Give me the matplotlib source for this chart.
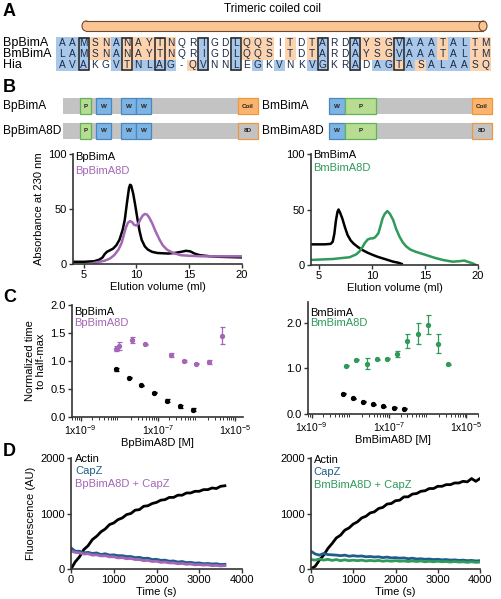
import numpy as np
import matplotlib
matplotlib.use("Agg")
import matplotlib.pyplot as plt
from matplotlib.patches import Rectangle, Ellipse
from matplotlib.ticker import FixedLocator, LogLocator, NullFormatter

plt.rcParams['font.family'] = ['Liberation Sans', 'DejaVu Sans']
plt.rcParams['mathtext.default'] = 'regular'

# --- Panel A: alignment ---
seq_names = ["BpBimA", "BmBimA", "Hia"]
seqs = ["AAMSNANAYTNQRIGDLQQSITDTARDAYSGVAAATALTM",
        "LAMSNANAYTNQRIGDLQQSITDTARDAYSGVAAATALTM",
        "AVAKGVTNLAG-QVNNLEGKVNKVGKRADAGTASALAASQ"]
shade = ["bbbooboooooww bwwbooowowobwwbooobbbbobboo".replace(" ", ""),
         "bbbooboooooww bwwbooowowobwwbooobbbbobboo".replace(" ", ""),
         "bbbwwbobbbbwobwwbwbwbwwbbwwbwbbobobbbboo"]
boxed_cols = [3, 7, 10, 14, 17, 25, 28, 32]

# --- Panel B: domain diagrams ---
construct_names = [["BpBimA", "BpBimA8D"], ["BmBimA", "BmBimA8D"]]
bp_domains = [("P", 80, 91), ("W", 96, 111), ("W", 121, 136), ("W", 136, 151)]
bm_domains = [("W", 329, 345), ("P", 345, 376)]

# --- Panel B: elution profiles ---
bp_vol = [4.05, 5.0, 6.0, 6.5, 6.8, 7.0, 7.2, 7.5, 7.8, 8.1, 8.4, 8.7, 8.9, 9.1, 9.3, 9.4, 9.5, 9.7, 9.9,
          10.1, 10.3, 10.5, 10.8, 11.1, 11.5, 12.0, 13.0, 13.6, 14.2, 14.7, 15.1, 15.5, 16.0, 17.0, 18.0, 20.0]
bp_abs = [2, 2, 2.5, 4, 6, 9, 11, 12.5, 14, 17, 22, 31, 40, 55, 69, 72, 71.5, 64, 53,
          41, 30, 22, 16, 13, 11, 10, 9.5, 10, 11, 12, 11.5, 9.5, 8, 7, 6.5, 6]
bp8d_vol = [6.0, 7.0, 7.5, 7.9, 8.3, 8.6, 8.8, 9.0, 9.2, 9.4, 9.6, 9.8, 10.0, 10.2, 10.4, 10.6, 10.8, 11.0,
            11.2, 11.5, 11.8, 12.2, 12.5, 12.9, 13.5, 14.2, 15.0, 16.1, 20.0]
bp8d_abs = [1, 3, 5, 8, 13, 19, 26, 33, 37.5, 39, 38, 35.5, 35, 37, 41, 44, 45.5, 45,
            42.5, 37, 30, 22, 17, 13, 10, 8, 7.5, 7, 7]
bm_vol = [4.1, 5.5, 6.1, 6.3, 6.45, 6.6, 6.75, 6.85, 7.0, 7.2, 7.45, 7.7, 8.0, 8.3, 8.7, 9.1, 9.6, 10.1,
          10.5, 11.0, 11.5, 12.0, 12.5, 12.8]
bm_abs = [18.6, 18.6, 19, 21, 28, 40, 48, 50, 47, 42, 34, 27, 22, 19, 16, 13.5, 11, 9,
          7.5, 6, 4.5, 3, 2, 1]
bm8d_vol = [4.1, 6.3, 7.9, 8.5, 8.8, 9.1, 9.3, 9.6, 9.9, 10.1, 10.3, 10.6, 10.8, 11.0, 11.2, 11.45, 11.7,
            12.0, 12.3, 12.6, 12.9, 13.2, 13.6, 14.1, 14.6, 15.1, 15.9, 16.7, 17.6, 18.3, 18.7, 19.0, 19.5, 19.8]
bm8d_abs = [4.5, 5.4, 7, 9.5, 12, 16, 19.5, 23, 24, 24, 25, 28.5, 35, 42, 46, 48.6, 46,
            40.5, 32, 25.5, 20.5, 17, 14, 12, 10.5, 9, 6.5, 4.5, 3, 3.5, 4, 3, 1.5, 0]

# --- Panel C: normalized time to half-max ---
c_bp_conc = [8.1e-9, 1.8e-8, 3.6e-8, 7.9e-8, 1.7e-7, 3.7e-7, 8.1e-7]
c_bp_val = [0.85, 0.70, 0.57, 0.43, 0.29, 0.19, 0.13]
c_bp_err = [0.03, 0.01, 0.01, 0.01, 0.03, 0.03, 0.03]
c_bp8d_conc = [8.1e-9, 1.0e-8, 2.2e-8, 4.6e-8, 2.2e-7, 4.8e-7, 1.0e-6, 2.1e-6, 4.6e-6]
c_bp8d_val = [1.22, 1.27, 1.37, 1.30, 1.11, 1.00, 0.95, 0.98, 1.45]
c_bp8d_err = [0.05, 0.07, 0.05, 0.01, 0.04, 0.01, 0.01, 0.04, 0.15]
c_bm_conc = [6.4e-9, 1.15e-8, 2.1e-8, 3.8e-8, 6.9e-8, 1.35e-7, 2.4e-7]
c_bm_val = [0.44, 0.34, 0.27, 0.21, 0.17, 0.14, 0.12]
c_bm_err = [0.01, 0.01, 0.01, 0.01, 0.01, 0.01, 0.01]
c_bm8d_conc = [7.6e-9, 1.4e-8, 2.7e-8, 4.9e-8, 8.9e-8, 1.6e-7, 2.9e-7, 5.7e-7, 1.0e-6, 1.9e-6, 3.4e-6]
c_bm8d_val = [1.06, 1.19, 1.10, 1.20, 1.21, 1.31, 1.60, 1.76, 1.95, 1.54, 1.09]
c_bm8d_err = [0.01, 0.01, 0.12, 0.01, 0.01, 0.06, 0.15, 0.23, 0.21, 0.20, 0.01]

# --- Panel D: pyrene fluorescence ---
d_left_time = list(range(0, 3700, 100))
d_left_actin = [0, 130, 220, 350, 420, 530, 590, 670, 720, 800, 830, 890, 920, 980, 1000, 1060, 1070, 1130, 1140,
                1180, 1200, 1240, 1250, 1290, 1290, 1330, 1330, 1370, 1370, 1400, 1400, 1430, 1430, 1460, 1450, 1490, 1500]
d_left_capz = [380, 320, 320, 290, 300, 280, 290, 260, 275, 250, 255, 240, 240, 225, 225, 205, 210, 190, 195, 170,
               175, 155, 160, 140, 145, 125, 135, 115, 120, 105, 110, 95, 100, 90, 95, 80, 85]
d_left_mix = [320, 300, 290, 270, 275, 250, 255, 235, 240, 220, 220, 200, 205, 185, 190, 170, 170, 150, 155, 135,
              140, 120, 125, 110, 110, 95, 100, 85, 90, 75, 80, 70, 75, 60, 65, 55, 60]
d_right_time = list(range(0, 4100, 100))
d_right_actin = [0, 50, 160, 250, 370, 460, 560, 610, 700, 740, 810, 850, 920, 950, 1010, 1030, 1090, 1110, 1170,
                 1180, 1230, 1240, 1300, 1300, 1350, 1360, 1400, 1410, 1450, 1450, 1490, 1490, 1520, 1520, 1550,
                 1550, 1580, 1570, 1630, 1580, 1630]
d_right_capz = [320, 270, 250, 280, 260, 255, 250, 240, 250, 230, 240, 230, 235, 220, 225, 215, 220, 205, 215, 200,
                205, 195, 200, 185, 195, 180, 185, 175, 180, 170, 175, 165, 170, 160, 165, 155, 160, 150, 155, 145, 150]
d_right_mix = [170, 160, 180, 160, 175, 155, 170, 150, 165, 150, 160, 150, 160, 145, 155, 145, 155, 140, 150, 140,
               150, 140, 145, 135, 145, 135, 145, 130, 140, 130, 140, 130, 135, 125, 135, 125, 130, 120, 130, 120, 125]

PURPLE = '#a466b6'
GREEN = '#2f9a5a'
CAPZ = '#1f5d8a'
BLUE_BG = '#a9c7e8'
ORANGE_BG = '#fcd3ad'
FS = 8

W, H = 501, 599
fig = plt.figure(figsize=(5.01, 5.99), dpi=100)
fig.set_facecolor('white')

# overlay in pixel coordinates for the schematic parts
ov = fig.add_axes([0, 0, 1, 1])
ov.set_xlim(0, W)
ov.set_ylim(H, 0)
ov.axis('off')

for letter, y in [("A", 12), ("B", 88), ("C", 298), ("D", 452)]:
    ov.text(3, y, letter, fontsize=13, fontweight='bold', va='center', ha='left')

# coiled coil cylinder
ov.text(273, 9, "Trimeric coiled coil", fontsize=8.5, ha='center', va='center')
cyl_fc, cyl_ec = '#fcc594', '#6b4a2e'
ov.add_patch(Ellipse((86, 26), 8, 10, fc=cyl_fc, ec=cyl_ec, lw=0.8))
ov.add_patch(Rectangle((86, 21), 397, 10, fc=cyl_fc, ec='none'))
ov.plot([86, 483], [21, 21], color=cyl_ec, lw=0.8)
ov.plot([86, 483], [31, 31], color=cyl_ec, lw=0.8)
ov.add_patch(Ellipse((483, 26), 8, 10, fc=cyl_fc, ec=cyl_ec, lw=0.8))

# alignment
x0, cw = 56.5, 10.87
row_y = [42.7, 54.0, 65.3]
rh = 11.3
for r, (name, s, sh) in enumerate(zip(seq_names, seqs, shade)):
    ov.text(3, row_y[r], name, fontsize=9, va='center', ha='left')
    for c, (aa, code) in enumerate(zip(s, sh)):
        if code != 'w':
            ov.add_patch(Rectangle((x0 + c * cw, row_y[r] - rh / 2), cw, rh,
                                   fc=BLUE_BG if code == 'b' else ORANGE_BG, ec='none'))
        ov.text(x0 + (c + 0.5) * cw, row_y[r], aa, fontsize=7.3, ha='center',
                va='center', color='#1b2a48')
for c in boxed_cols:
    ov.add_patch(Rectangle((x0 + (c - 1) * cw + 0.5, row_y[0] - rh / 2 + 0.5), cw - 1, 3 * rh - 1,
                           fc='none', ec='#222222', lw=1.1))

# domain diagrams
dom_style = {"P": ('#b8dd92', '#5fb45a'), "W": ('#7db4e3', '#4a86c0'),
             "Coil": ('#fbb46e', '#f0963c'), "8D": ('#c3c3c3', '#f0963c')}


def draw_construct(x_start, x_end, y, domains, tail, label, label_x):
    ov.text(label_x, y + 8, label, fontsize=8.6, va='center', ha='left')
    ov.add_patch(Rectangle((x_start, y), x_end - x_start, 16, fc='#c3c3c3', ec='none'))
    for name, a, b in domains + [(tail, x_end - 20, x_end)]:
        fc, ec = dom_style[name]
        ov.add_patch(Rectangle((a, y), b - a, 16, fc=fc, ec=ec, lw=0.9))
        ov.text((a + b) / 2, y + 8, name, fontsize=4.5, fontweight='bold',
                ha='center', va='center', color='#222222')


draw_construct(63, 258, 98, bp_domains, "Coil", construct_names[0][0], 3)
draw_construct(63, 258, 123, bp_domains, "8D", construct_names[0][1], 3)
draw_construct(329, 492, 98, bm_domains, "Coil", construct_names[1][0], 262)
draw_construct(329, 492, 123, bm_domains, "8D", construct_names[1][1], 262)


def make_ax(x1, x2, y1, y2):
    ax = fig.add_axes([x1 / W, 1 - y2 / H, (x2 - x1) / W, (y2 - y1) / H])
    ax.spines['top'].set_visible(False)
    ax.spines['right'].set_visible(False)
    for s in ('left', 'bottom'):
        ax.spines[s].set_linewidth(1.2)
        ax.spines[s].set_color('#333333')
    ax.tick_params(labelsize=FS, length=3, width=1, color='#333333', pad=1.5)
    ax.patch.set_alpha(0)
    return ax


def legend_text(ax, items, ys, x=0.015):
    for (txt, col), yy in zip(items, ys):
        ax.text(x, yy, txt, color=col, fontsize=FS, transform=ax.transAxes,
                ha='left', va='center')


# chromatograms
ax1 = make_ax(73, 242, 154, 264)
ax1.plot(bp_vol, bp_abs, color='black', lw=1.8)
ax1.plot(bp8d_vol, bp8d_abs, color=PURPLE, lw=1.8)
ax1.set_xlim(4, 20)
ax1.set_ylim(0, 100)
ax1.set_xticks([5, 10, 15, 20])
ax1.set_yticks([0, 50, 100])
ax1.set_xlabel("Elution volume (ml)", fontsize=FS, labelpad=1)
ax1.set_ylabel("Absorbance at 230 nm", fontsize=FS, labelpad=3)
legend_text(ax1, [("BpBimA", 'black'), ("BpBimA8D", PURPLE)], [0.97, 0.85])

ax2 = make_ax(311, 478, 154, 265)
ax2.plot(bm_vol, bm_abs, color='black', lw=1.8)
ax2.plot(bm8d_vol, bm8d_abs, color=GREEN, lw=1.8)
ax2.set_xlim(4.25, 20)
ax2.set_ylim(0, 100)
ax2.set_xticks([5, 10, 15, 20])
ax2.set_yticks([0, 50, 100])
ax2.set_xlabel("Elution volume (ml)", fontsize=FS, labelpad=1)
legend_text(ax2, [("BmBimA", 'black'), ("BmBimA8D", GREEN)], [0.99, 0.87])


def log_axis(ax):
    ax.set_xscale('log')
    ax.xaxis.set_major_locator(FixedLocator([1e-9, 1e-7, 1e-5]))
    ax.set_xticklabels([r'1x10$^{-9}$', r'1x10$^{-7}$', r'1x10$^{-5}$'])
    ax.xaxis.set_minor_locator(LogLocator(base=10, subs=np.arange(2, 10), numticks=20))
    ax.xaxis.set_minor_formatter(NullFormatter())
    ax.tick_params(axis='x', which='minor', length=1.8, width=0.7, color='#333333')
    ax.tick_params(axis='x', which='major', labelsize=7.5)


eb_kw = dict(fmt='o', ms=2.8, capsize=1.8, elinewidth=0.9, capthick=0.9)
ax3 = make_ax(72, 243, 305, 417)
ax3.errorbar(c_bp_conc, c_bp_val, yerr=c_bp_err, color='black', **eb_kw)
ax3.errorbar(c_bp8d_conc, c_bp8d_val, yerr=c_bp8d_err, color=PURPLE, **eb_kw)
log_axis(ax3)
ax3.set_xlim(6e-10, 1.6e-5)
ax3.set_ylim(0, 2.0)
ax3.set_yticks([0, 0.5, 1.0, 1.5, 2.0])
ax3.set_yticklabels(['0.0', '0.5', '1.0', '1.5', '2.0'])
ax3.set_xlabel("BpBimA8D [M]", fontsize=FS, labelpad=1)
ax3.set_ylabel("Normalized time\nto half-max", fontsize=FS, labelpad=3, linespacing=1.1)
legend_text(ax3, [("BpBimA", 'black'), ("BpBimA8D", PURPLE)], [0.94, 0.84])

ax4 = make_ax(308, 478, 302, 414)
ax4.errorbar(c_bm_conc, c_bm_val, yerr=c_bm_err, color='black', **eb_kw)
ax4.errorbar(c_bm8d_conc, c_bm8d_val, yerr=c_bm8d_err, color=GREEN, **eb_kw)
log_axis(ax4)
ax4.set_xlim(8e-10, 2e-5)
ax4.set_ylim(0, 2.45)
ax4.set_yticks([0, 1.0, 2.0])
ax4.set_yticklabels(['0.0', '1.0', '2.0'])
ax4.set_xlabel("BmBimA8D [M]", fontsize=FS, labelpad=1)
legend_text(ax4, [("BmBimA", 'black'), ("BmBimA8D", GREEN)], [0.90, 0.81])

# fluorescence
ax5 = make_ax(71, 242, 458, 569)
ax5.plot(d_left_time, d_left_actin, color='black', lw=2)
ax5.plot(d_left_time, d_left_capz, color=CAPZ, lw=2)
ax5.plot(d_left_time, d_left_mix, color=PURPLE, lw=2)
ax5.set_xlim(0, 4000)
ax5.set_ylim(0, 2000)
ax5.set_xticks([0, 1000, 2000, 3000, 4000])
ax5.set_yticks([0, 1000, 2000])
ax5.set_xlabel("Time (s)", fontsize=FS, labelpad=1)
ax5.set_ylabel("Fluorescence (AU)", fontsize=FS, labelpad=3)
legend_text(ax5, [("Actin", 'black'), ("CapZ", CAPZ), ("BpBimA8D + CapZ", PURPLE)],
            [0.99, 0.88, 0.77], x=0.025)

ax6 = make_ax(311, 480, 458, 569)
ax6.plot(d_right_time, d_right_actin, color='black', lw=2)
ax6.plot(d_right_time, d_right_capz, color=CAPZ, lw=2)
ax6.plot(d_right_time, d_right_mix, color=GREEN, lw=2)
ax6.set_xlim(0, 4000)
ax6.set_ylim(0, 2000)
ax6.set_xticks([0, 1000, 2000, 3000, 4000])
ax6.set_yticks([0, 1000, 2000])
ax6.set_xlabel("Time (s)", fontsize=FS, labelpad=1)
legend_text(ax6, [("Actin", 'black'), ("CapZ", CAPZ), ("BmBimA8D + CapZ", GREEN)],
            [0.98, 0.87, 0.76], x=0.015)

fig.savefig("out.png", dpi=100, facecolor='white')
plt.close(fig)
